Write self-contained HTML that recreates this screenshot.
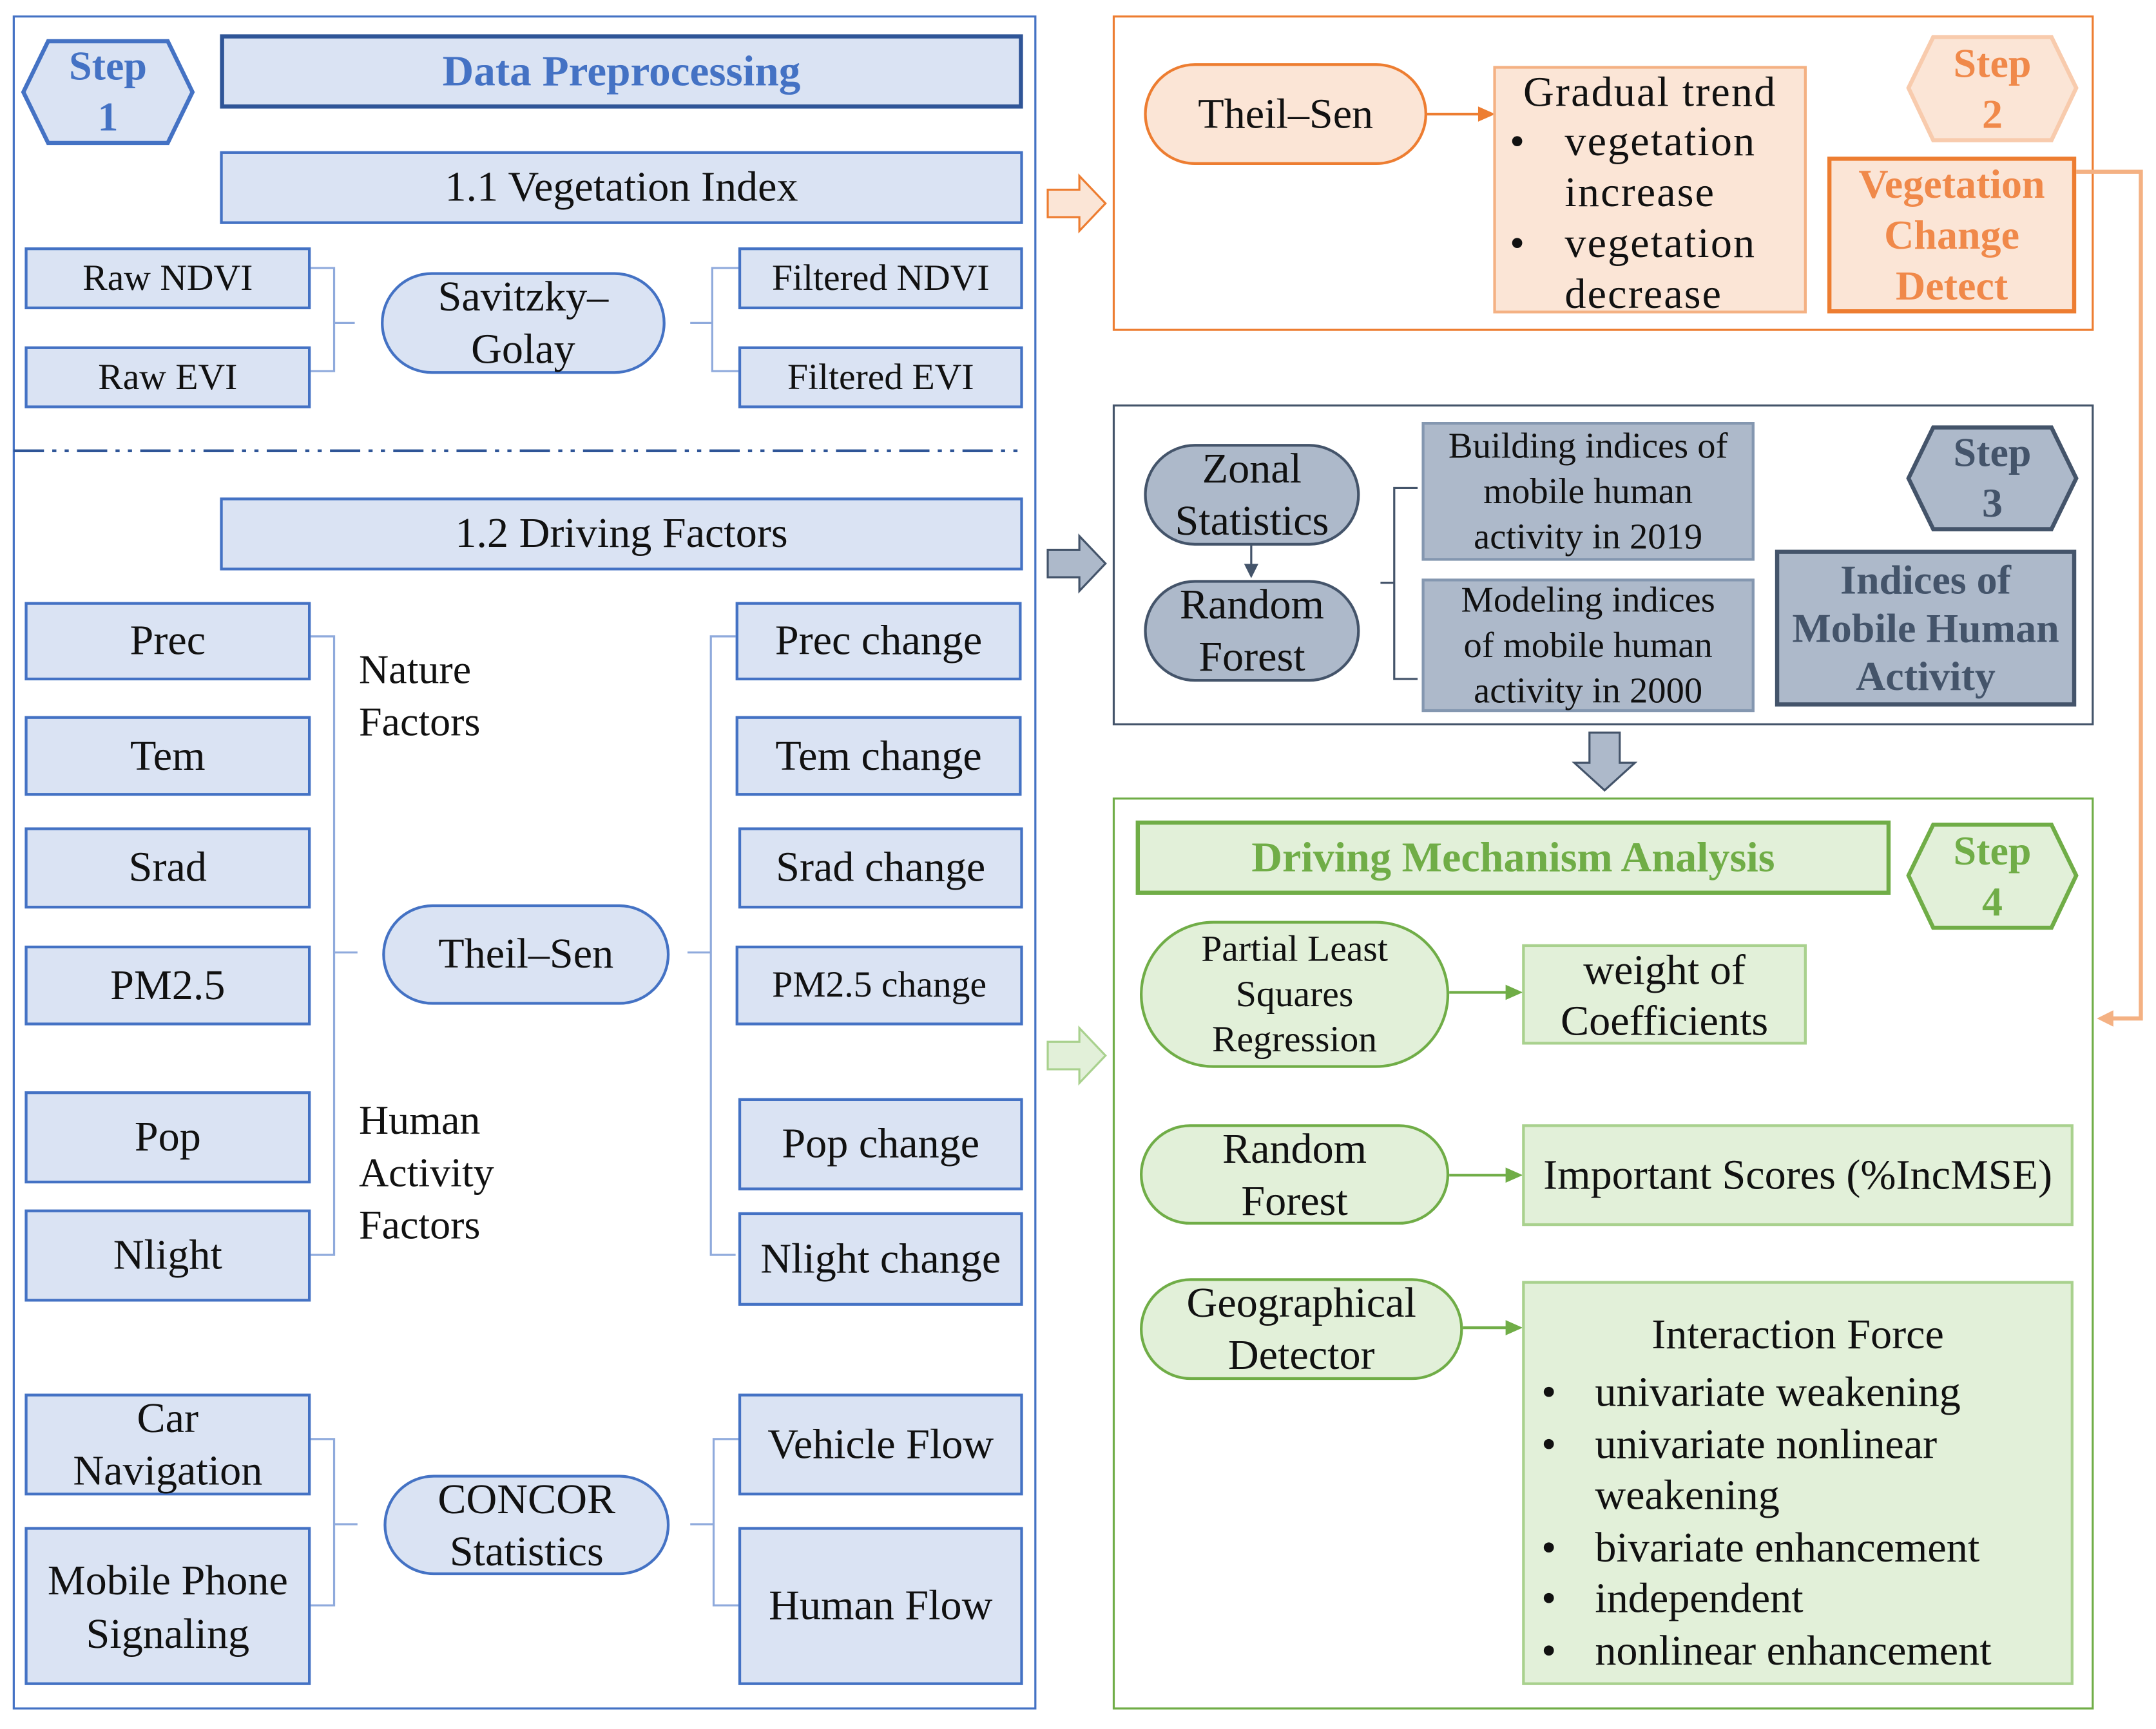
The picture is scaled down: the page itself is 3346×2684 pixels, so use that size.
<!DOCTYPE html>
<html><head><meta charset="utf-8"><style>
html,body{margin:0;padding:0;background:#fff;}
#wrap{position:relative;width:1568px;height:1258px;transform:scale(2.1339,2.1336);transform-origin:0 0;font-family:"Liberation Serif",serif;color:#111;}
.b{position:absolute;box-sizing:border-box;display:flex;align-items:center;justify-content:center;text-align:center;line-height:1.45;white-space:nowrap;}
.blue{background:#dae3f3;border:2px solid #4472c4;}
.pill{border-radius:38px;}
.or{background:#fbe5d6;border:2px solid #ed7d31;}
.gr{background:#adb9ca;border:2px solid #44546a;}
.gn{background:#e2f0d9;border:2px solid #70ad47;}
.t{position:absolute;font-size:30px;line-height:38px;}
svg{position:absolute;left:0;top:0;}
</style></head><body><div id="wrap">
<svg width="1568" height="1258" viewBox="0 0 1568 1258">
<rect x="10" y="12" width="743" height="1231" fill="none" stroke="#4472c4" stroke-width="1.5"/>
<rect x="810" y="12" width="712" height="228" fill="none" stroke="#ed7d31" stroke-width="1.5"/>
<rect x="810" y="295" width="712" height="232" fill="none" stroke="#44546a" stroke-width="1.5"/>
<rect x="810" y="581" width="712" height="662" fill="none" stroke="#70ad47" stroke-width="1.5"/>
<polygon points="17,67 35,30 122,30 140,67 122,104 35,104" fill="#dae3f3" stroke="#4472c4" stroke-width="3"/>
<polygon points="1388,64 1406,27 1492,27 1510,64 1492,102 1406,102" fill="#fbe5d6" stroke="#f8cbad" stroke-width="3"/>
<polygon points="1388,348 1406,311 1492,311 1510,348 1492,385 1406,385" fill="#adb9ca" stroke="#44546a" stroke-width="3"/>
<polygon points="1388,637 1406,600 1492,600 1510,637 1492,675 1406,675" fill="#e2f0d9" stroke="#70ad47" stroke-width="3"/>
<line x1="10" y1="328" x2="745" y2="328" stroke="#2f5597" stroke-width="2" stroke-dasharray="22,6,3,6,3,6"/>
<g fill="none" stroke="#8faadc" stroke-width="1.5">
<path d="M226,195 H243 V270 H226 M243,235 H258"/>
<path d="M537,195 H518 V270 H537 M518,235 H502"/>
<path d="M226,463 H243 V913 H226 M243,693 H260"/>
<path d="M535,463 H517 V913 H535 M517,693 H500"/>
<path d="M226,1047 H243 V1168 H226 M243,1109 H260"/>
<path d="M537,1047 H519 V1168 H537 M519,1109 H502"/>
</g>
<path d="M1031,355 H1014 V494 H1031 M1014,424 H1004" fill="none" stroke="#44546a" stroke-width="1.5"/>
<polygon points="762,138 785,138 785,128 804,148 785,168 785,158 762,158" fill="#fbe5d6" stroke="#ed7d31" stroke-width="1.5"/>
<polygon points="762,400 785,400 785,390 804,410 785,430 785,420 762,420" fill="#adb9ca" stroke="#44546a" stroke-width="1.5"/>
<polygon points="762,758 785,758 785,748 804,768 785,788 785,778 762,778" fill="#e2f0d9" stroke="#a9d18e" stroke-width="1.5"/>
<polygon points="1156,533 1178,533 1178,555 1189,555 1167,575 1145,555 1156,555" fill="#adb9ca" stroke="#44546a" stroke-width="1.5"/>
<g stroke="#ed7d31" stroke-width="2" fill="#ed7d31">
<line x1="1038" y1="83" x2="1078" y2="83"/><polygon points="1085,83 1076,79 1076,87"/>
<path d="M1510,125 H1557 V741 H1532" fill="none" stroke="#f4b183" stroke-width="3"/>
<polygon points="1525,741 1537,735 1537,747" fill="#f4b183" stroke="none"/>
</g>
<g stroke="#44546a" stroke-width="1.5" fill="#44546a"><line x1="910" y1="397" x2="910" y2="412"/><polygon points="910,419 906,411 914,411"/></g>
<g stroke="#70ad47" stroke-width="2" fill="#70ad47">
<line x1="1054" y1="722" x2="1098" y2="722"/><polygon points="1105,722 1096,718 1096,726"/>
<line x1="1054" y1="855" x2="1098" y2="855"/><polygon points="1105,855 1096,851 1096,859"/>
<line x1="1064" y1="966" x2="1098" y2="966"/><polygon points="1105,966 1096,962 1096,970"/>
</g>
</svg>
<div class="b" style="left:17px;top:30px;width:123px;height:74px;font-weight:bold;font-size:30px;color:#4472c4;line-height:37px;">Step<br>1</div>
<div class="b blue" style="left:160px;top:25px;width:584px;height:54px;border:3px solid #2f5597;font-weight:bold;font-size:31.5px;color:#4472c4;">Data Preprocessing</div>
<div class="b blue" style="left:160px;top:110px;width:584px;height:53px;font-size:31px;">1.1 Vegetation Index</div>
<div class="b blue" style="left:18px;top:180px;width:208px;height:45px;font-size:27px;">Raw NDVI</div>
<div class="b blue" style="left:18px;top:252px;width:208px;height:45px;font-size:27px;">Raw EVI</div>
<div class="b blue pill" style="left:277px;top:198px;width:207px;height:74px;font-size:31px;line-height:38px;">Savitzky–<br>Golay</div>
<div class="b blue" style="left:537px;top:180px;width:207px;height:45px;font-size:27px;">Filtered NDVI</div>
<div class="b blue" style="left:537px;top:252px;width:207px;height:45px;font-size:27px;">Filtered EVI</div>
<div class="b blue" style="left:160px;top:362px;width:584px;height:53px;font-size:31px;">1.2 Driving Factors</div>
<div class="b blue" style="left:18px;top:438px;width:208px;height:57px;font-size:31px;">Prec</div>
<div class="b blue" style="left:18px;top:521px;width:208px;height:58px;font-size:31px;">Tem</div>
<div class="b blue" style="left:18px;top:602px;width:208px;height:59px;font-size:31px;">Srad</div>
<div class="b blue" style="left:18px;top:688px;width:208px;height:58px;font-size:31px;">PM2.5</div>
<div class="b blue" style="left:18px;top:794px;width:208px;height:67px;font-size:31px;">Pop</div>
<div class="b blue" style="left:18px;top:880px;width:208px;height:67px;font-size:31px;">Nlight</div>
<div class="b blue" style="left:535px;top:438px;width:208px;height:57px;font-size:31px;">Prec change</div>
<div class="b blue" style="left:535px;top:521px;width:208px;height:58px;font-size:31px;">Tem change</div>
<div class="b blue" style="left:537px;top:602px;width:207px;height:59px;font-size:31px;">Srad change</div>
<div class="b blue" style="left:535px;top:688px;width:209px;height:58px;font-size:27px;">PM2.5 change</div>
<div class="b blue" style="left:537px;top:799px;width:207px;height:67px;font-size:31px;">Pop change</div>
<div class="b blue" style="left:537px;top:882px;width:207px;height:68px;font-size:31px;">Nlight change</div>
<div class="b blue pill" style="left:278px;top:658px;width:209px;height:73px;font-size:31px;">Theil–Sen</div>
<div class="t" style="left:261px;top:469px;">Nature<br>Factors</div>
<div class="t" style="left:261px;top:797px;">Human<br>Activity<br>Factors</div>
<div class="b blue" style="left:18px;top:1014px;width:208px;height:74px;font-size:31px;line-height:38px;">Car<br>Navigation</div>
<div class="b blue" style="left:18px;top:1111px;width:208px;height:115px;font-size:31px;line-height:39px;">Mobile Phone<br>Signaling</div>
<div class="b blue pill" style="left:279px;top:1073px;width:208px;height:73px;font-size:31px;line-height:38px;">CONCOR<br>Statistics</div>
<div class="b blue" style="left:537px;top:1014px;width:207px;height:74px;font-size:31px;">Vehicle Flow</div>
<div class="b blue" style="left:537px;top:1111px;width:207px;height:115px;font-size:31px;">Human Flow</div>

<div class="b or pill" style="left:832px;top:46px;width:206px;height:74px;font-size:31px;">Theil–Sen</div>
<div class="b or" style="left:1086px;top:48px;width:228px;height:180px;border-color:#f4b183;display:block;text-align:left;font-size:31px;line-height:37px;padding:0 0 0 10px;letter-spacing:1px;">
<div style="text-align:center;padding-right:10px;line-height:34px;">Gradual trend</div>
<div style="position:relative;padding-left:40px;"><span style="position:absolute;left:0;">•</span>vegetation<br>increase</div>
<div style="position:relative;padding-left:40px;"><span style="position:absolute;left:0;">•</span>vegetation<br>decrease</div></div>
<div class="b" style="left:1388px;top:27px;width:122px;height:75px;font-weight:bold;font-size:30px;color:#f0894a;line-height:37px;">Step<br>2</div>
<div class="b" style="left:1329px;top:114px;width:181px;height:114px;border:3px solid #ed7d31;background:#fbe5d6;font-weight:bold;font-size:30px;color:#f0894a;line-height:37px;">Vegetation<br>Change<br>Detect</div>

<div class="b gr pill" style="left:832px;top:323px;width:157px;height:74px;font-size:31px;line-height:38px;">Zonal<br>Statistics</div>
<div class="b gr pill" style="left:832px;top:422px;width:157px;height:74px;font-size:31px;line-height:38px;">Random<br>Forest</div>
<div class="b gr" style="left:1034px;top:307px;width:242px;height:101px;border-color:#8497b0;font-size:26.5px;line-height:33px;">Building indices of<br>mobile human<br>activity in 2019</div>
<div class="b gr" style="left:1034px;top:421px;width:242px;height:97px;border-color:#8497b0;font-size:26.5px;line-height:33px;">Modeling indices<br>of mobile human<br>activity in 2000</div>
<div class="b" style="left:1388px;top:311px;width:122px;height:74px;font-weight:bold;font-size:30px;color:#44546a;line-height:37px;">Step<br>3</div>
<div class="b gr" style="left:1291px;top:400px;width:219px;height:114px;border:3px solid #44546a;font-weight:bold;font-size:30px;color:#44546a;line-height:35px;">Indices of<br>Mobile Human<br>Activity</div>

<div class="b gn" style="left:826px;top:597px;width:549px;height:54px;border:3px solid #70ad47;font-weight:bold;font-size:31px;color:#70ad47;">Driving Mechanism Analysis</div>
<div class="b" style="left:1388px;top:600px;width:122px;height:75px;font-weight:bold;font-size:30px;color:#70ad47;line-height:37px;">Step<br>4</div>
<div class="b gn pill" style="left:829px;top:670px;width:225px;height:107px;border-radius:54px;font-size:27px;line-height:33px;">Partial Least<br>Squares<br>Regression</div>
<div class="b gn" style="left:1107px;top:687px;width:207px;height:73px;border-color:#a9d18e;font-size:31px;line-height:37px;">weight of<br>Coefficients</div>
<div class="b gn pill" style="left:829px;top:818px;width:225px;height:73px;font-size:31px;line-height:38px;">Random<br>Forest</div>
<div class="b gn" style="left:1107px;top:818px;width:401px;height:74px;border-color:#a9d18e;font-size:31px;">Important Scores (%IncMSE)</div>
<div class="b gn pill" style="left:829px;top:930px;width:235px;height:74px;font-size:31px;line-height:38px;">Geographical<br>Detector</div>
<div class="b gn" style="left:1107px;top:932px;width:401px;height:294px;border-color:#a9d18e;display:block;text-align:left;font-size:31px;line-height:37.5px;padding:18px 0 0 10px;">
<div style="text-align:center;padding-right:10px;line-height:38px;margin-bottom:4px;">Interaction Force</div>
<div style="position:relative;padding-left:41px;"><span style="position:absolute;left:2px;">•</span>univariate weakening</div>
<div style="position:relative;padding-left:41px;"><span style="position:absolute;left:2px;">•</span>univariate nonlinear<br>weakening</div>
<div style="position:relative;padding-left:41px;"><span style="position:absolute;left:2px;">•</span>bivariate enhancement</div>
<div style="position:relative;padding-left:41px;"><span style="position:absolute;left:2px;">•</span>independent</div>
<div style="position:relative;padding-left:41px;"><span style="position:absolute;left:2px;">•</span>nonlinear enhancement</div>
</div>
</div></body></html>
